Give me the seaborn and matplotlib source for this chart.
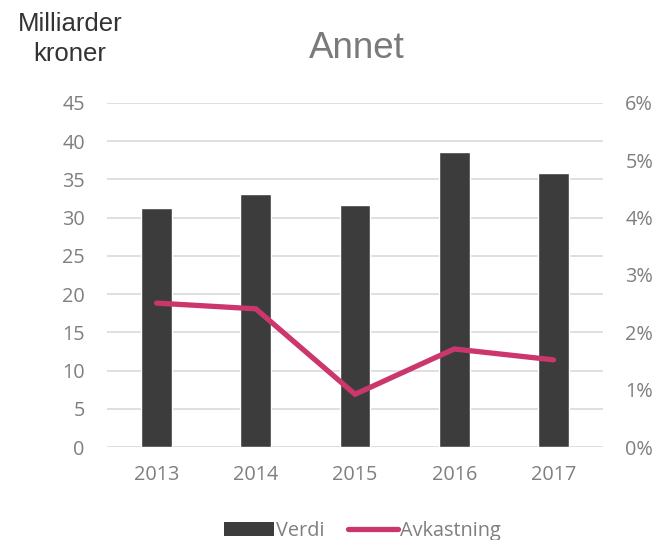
import numpy as np
import pandas as pd
import matplotlib
matplotlib.use('Agg')
import matplotlib.pyplot as plt
import seaborn as sns
from matplotlib.patches import Patch
from matplotlib.lines import Line2D
from matplotlib.ticker import FuncFormatter

# Data
years = ['2013', '2014', '2015', '2016', '2017']
verdi = [31.3, 33.1, 31.6, 38.6, 35.8]            # milliarder kroner
avkastning = [2.51, 2.41, 0.92, 1.71, 1.52]       # prosent

left_ticks = [0, 5, 10, 15, 20, 25, 30, 35, 40, 45]
right_ticks = [0, 1, 2, 3, 4, 5, 6]

bar_color = '#3C3C3C'
line_color = '#CB376C'
tick_color = '#7F7F7F'
grid_color = '#D9D9D9'

sns.set_style('white')
plt.rcParams['font.family'] = ['Open Sans', 'DejaVu Sans']

df = pd.DataFrame({'year': years, 'verdi': verdi, 'avkastning': avkastning})

fig = plt.figure(figsize=(6.59, 5.4), dpi=100)
ax = fig.add_axes([0.1624, 0.1722, 0.7527, 0.6371])

sns.barplot(data=df, x='year', y='verdi', color=bar_color, width=0.31,
            saturation=1, ax=ax, zorder=3)
ax.set_ylim(0, 45)
ax.set_yticks(left_ticks)
ax.grid(axis='y', color=grid_color, linewidth=1.2, zorder=0)
ax.set_axisbelow(True)
ax.set_xlabel('')
ax.set_ylabel('')

ax2 = ax.twinx()
sns.pointplot(data=df, x='year', y='avkastning', color=line_color,
              markers='', linestyles='-', ax=ax2)
for ln in ax2.lines:
    ln.set_linewidth(3.8)
    ln.set_solid_capstyle('round')
    ln.set_solid_joinstyle('miter')
ax2.set_ylim(0, 6)
ax2.set_yticks(right_ticks)
ax2.yaxis.set_major_formatter(FuncFormatter(lambda v, p: f'{v:.0f}%'))
ax2.set_xlabel('')
ax2.set_ylabel('')
ax.set_xlim(-0.5, 4.5)

for a in (ax, ax2):
    for s in a.spines.values():
        s.set_visible(False)
    a.tick_params(axis='both', length=0, labelsize=14.3, labelcolor=tick_color)
ax.tick_params(axis='y', pad=16)
ax2.tick_params(axis='y', pad=16)
ax.tick_params(axis='x', pad=13)

fig.text(0.542, 0.911, 'Annet', ha='center', va='center', fontsize=26.5,
         color='#7A7A7A', family=['Liberation Sans', 'DejaVu Sans'])
fig.text(0.106, 0.928, 'Milliarder\nkroner', ha='center', va='center',
         fontsize=18.5, color='#333333', linespacing=1.35,
         family=['Liberation Sans', 'DejaVu Sans'])

handles = [Patch(facecolor=bar_color, edgecolor='none'),
           Line2D([0], [0], color=line_color, linewidth=3.8, solid_capstyle='round')]
leg = fig.legend(handles, ['Verdi', 'Avkastning'], loc='center',
                 bbox_to_anchor=(0.55, 0.016), ncol=2, frameon=False,
                 fontsize=14.3, handlelength=2.5, handleheight=0.7,
                 handletextpad=0.1, columnspacing=1.2)
for t in leg.get_texts():
    t.set_color(tick_color)

fig.savefig('out.png', dpi=100)
